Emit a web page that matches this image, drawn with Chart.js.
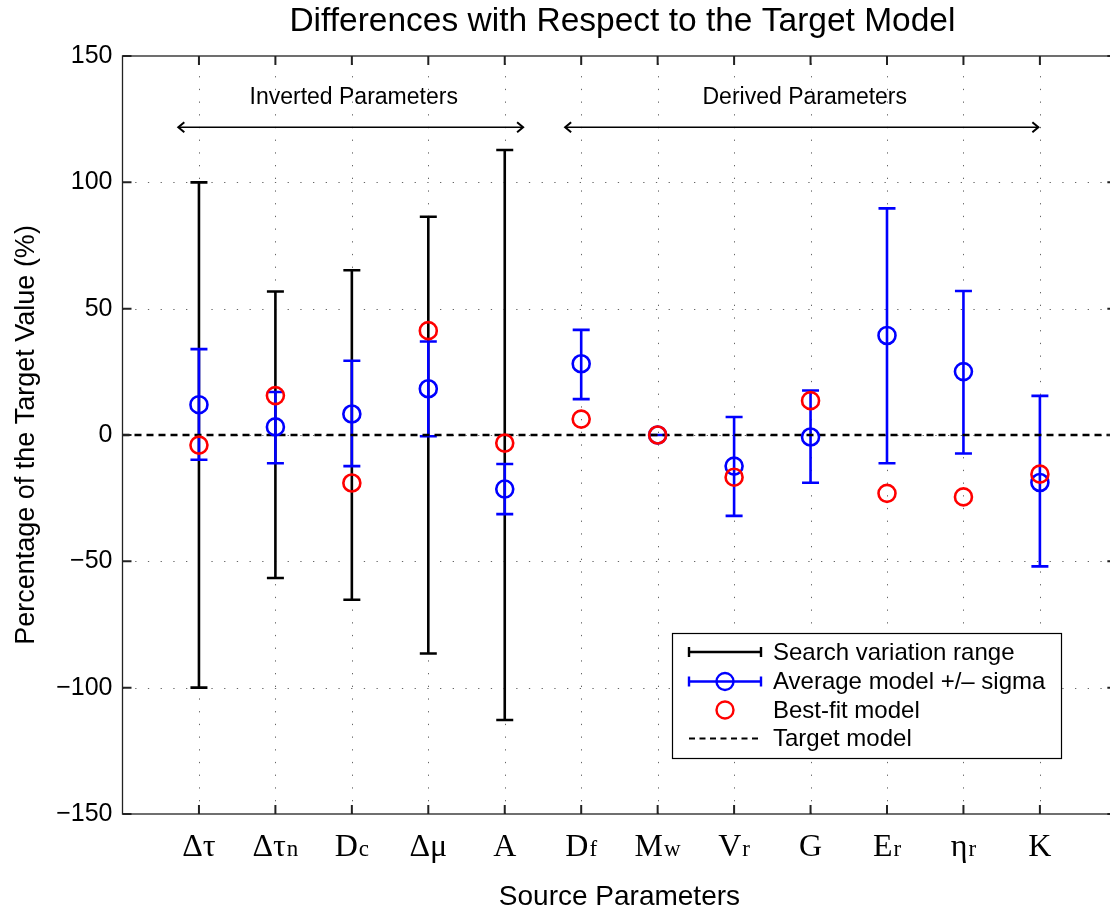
<!DOCTYPE html>
<html><head><meta charset="utf-8">
<script src="https://cdn.jsdelivr.net/npm/chart.js@4.4.0/dist/chart.umd.min.js"></script>
<style>html,body{margin:0;padding:0;overflow:hidden;background:#fff;width:1110px;height:911px}</style>
</head><body>
<canvas id="c" width="1110" height="911" style="display:block;width:1110px;height:911px"></canvas>
<script>
// ---- data ----
const categories = ['Δτ','Δτ','D','Δμ','A','D','M','V','G','E','η','K'];
const subscripts = ['','n','c','','','f','w','r','','r','r',''];
const searchLow  = [-100,-56.6,-65.2,-86.5,-112.8,null,null,null,null,null,null,null];
const searchHigh = [100,56.8,65.2,86.4,112.8,null,null,null,null,null,null,null];
const avgMean = [12,3.2,8.3,18.3,-21.4,28.2,0,-12.3,-0.8,39.4,25.1,-18.8];
const avgLow  = [-9.8,-11.2,-12.3,-0.5,-31.3,14.2,0,-32,-18.9,-11.2,-7.3,-52];
const avgHigh = [34,17,29.4,37,-11.5,41.6,0,7.1,17.6,89.7,57,15.5];
const bestFit = [-4,15.6,-19,41.3,-3.2,6.3,0,-16.7,13.6,-23.1,-24.5,-15.5];
const yTicks = [-150,-100,-50,0,50,100,150];
const groupLabels = ['Inverted Parameters','Derived Parameters'];
const legendLabels = ['Search variation range','Average model +/\u2013 sigma','Best-fit model','Target model'];
const titleText = 'Differences with Respect to the Target Model';
const xTitle = 'Source Parameters';
const yTitle = 'Percentage of the Target Value (%)';

const SANS = '"Liberation Sans", Arial, Helvetica, sans-serif';
const SERIF = '"Liberation Serif", "Times New Roman", serif';
const BLUE = '#0000ff', RED = '#ff0000';
const X_FULL = categories.length + 1;   // full axis extent (frame at 0 and 13)
const X_VISIBLE = 12.917;               // the figure is cropped just before the right frame

function errBar(ctx, x, y, i, lo, hi, color, w) {
  const px = x.getPixelForValue(i + 1);
  const pl = y.getPixelForValue(lo), ph = y.getPixelForValue(hi);
  ctx.strokeStyle = color; ctx.lineWidth = w;
  ctx.beginPath();
  ctx.moveTo(px, pl); ctx.lineTo(px, ph);
  ctx.moveTo(px - 8.5, pl); ctx.lineTo(px + 8.5, pl);
  ctx.moveTo(px - 8.5, ph); ctx.lineTo(px + 8.5, ph);
  ctx.stroke();
}
function chevron(ctx, x, y, dir) {
  ctx.beginPath();
  ctx.moveTo(x - dir * 6, y - 5); ctx.lineTo(x, y); ctx.lineTo(x - dir * 6, y + 5);
  ctx.stroke();
}

const custom = {
  id: 'custom',
  beforeDatasetsDraw(chart) {
    const {ctx, chartArea: a, scales: {x, y}} = chart;
    ctx.save();
    ctx.strokeStyle = 'rgba(0,0,0,0.6)'; ctx.lineWidth = 1; ctx.setLineDash([1.3, 11.4]);
    categories.forEach((c, i) => {
      const px = Math.round(x.getPixelForValue(i + 1)) + 0.5;
      ctx.beginPath(); ctx.moveTo(px, a.bottom); ctx.lineTo(px, a.top); ctx.stroke();
    });
    yTicks.forEach(v => {
      if (v === yTicks[0] || v === yTicks[yTicks.length - 1]) return;
      const py = Math.round(y.getPixelForValue(v)) + 0.5;
      ctx.beginPath(); ctx.moveTo(a.left, py); ctx.lineTo(a.right, py); ctx.stroke();
    });
    ctx.setLineDash([]);
    ctx.lineCap = 'butt';
    categories.forEach((c, i) => {
      if (searchLow[i] !== null) errBar(ctx, x, y, i, searchLow[i], searchHigh[i], '#000', 2.6);
    });
    categories.forEach((c, i) => errBar(ctx, x, y, i, avgLow[i], avgHigh[i], BLUE, 2.6));
    ctx.restore();
  },
  afterDatasetsDraw(chart) {
    const {ctx, chartArea: a, scales: {x, y}} = chart;
    const fr = x.getPixelForValue(X_FULL);
    ctx.save();
    ctx.strokeStyle = '#222'; ctx.lineWidth = 1.3;
    ctx.strokeRect(a.left, a.top, fr - a.left, a.bottom - a.top);
    ctx.beginPath();
    categories.forEach((c, i) => {
      const px = x.getPixelForValue(i + 1);
      ctx.moveTo(px, a.bottom); ctx.lineTo(px, a.bottom - 9);
      ctx.moveTo(px, a.top); ctx.lineTo(px, a.top + 9);
    });
    yTicks.forEach(v => {
      const py = y.getPixelForValue(v);
      ctx.moveTo(a.left, py); ctx.lineTo(a.left + 9, py);
      ctx.moveTo(fr, py); ctx.lineTo(fr - 9, py);
    });
    ctx.lineWidth = 2; ctx.stroke();

    // group annotations
    const spans = [[0.73, 5.24], [5.79, 11.98]];
    const ay = y.getPixelForValue(121.8), ty = y.getPixelForValue(133.4);
    ctx.fillStyle = '#000'; ctx.font = '23px ' + SANS; ctx.textAlign = 'center'; ctx.textBaseline = 'middle';
    ctx.strokeStyle = '#000';
    groupLabels.forEach((t, k) => {
      const x1 = x.getPixelForValue(spans[k][0]), x2 = x.getPixelForValue(spans[k][1]);
      ctx.lineWidth = 1.5;
      ctx.beginPath(); ctx.moveTo(x1, ay); ctx.lineTo(x2, ay); ctx.stroke();
      ctx.lineWidth = 2;
      chevron(ctx, x1, ay, -1); chevron(ctx, x2, ay, 1);
      ctx.fillText(t, (x1 + x2) / 2 + 3, ty);
    });

    // legend
    const L = 672, T = 633, R = 1061, B = 758;
    ctx.fillStyle = '#fff'; ctx.fillRect(L, T, R - L, B - T);
    ctx.strokeStyle = '#000'; ctx.lineWidth = 1.2; ctx.strokeRect(L + 0.5, T + 0.5, R - L, B - T);
    const rows = [652, 681.5, 710, 738.5];
    const s1 = 689, s2 = 761, sc = 725;
    ctx.lineWidth = 2.4;
    ctx.strokeStyle = '#000';
    ctx.beginPath(); ctx.moveTo(s1, rows[0]); ctx.lineTo(s2, rows[0]);
    ctx.moveTo(s1, rows[0] - 5); ctx.lineTo(s1, rows[0] + 5);
    ctx.moveTo(s2, rows[0] - 5); ctx.lineTo(s2, rows[0] + 5); ctx.stroke();
    ctx.strokeStyle = BLUE;
    ctx.beginPath(); ctx.moveTo(s1, rows[1]); ctx.lineTo(s2, rows[1]);
    ctx.moveTo(s1, rows[1] - 5); ctx.lineTo(s1, rows[1] + 5);
    ctx.moveTo(s2, rows[1] - 5); ctx.lineTo(s2, rows[1] + 5); ctx.stroke();
    ctx.beginPath(); ctx.arc(sc, rows[1], 8.5, 0, Math.PI * 2); ctx.stroke();
    ctx.strokeStyle = RED;
    ctx.beginPath(); ctx.arc(sc, rows[2], 8.5, 0, Math.PI * 2); ctx.stroke();
    ctx.strokeStyle = '#000'; ctx.setLineDash([6, 4.5]); ctx.lineWidth = 2;
    ctx.beginPath(); ctx.moveTo(s1, rows[3]); ctx.lineTo(s2, rows[3]); ctx.stroke();
    ctx.setLineDash([]);
    ctx.fillStyle = '#000'; ctx.font = '24px ' + SANS; ctx.textAlign = 'left'; ctx.textBaseline = 'middle';
    legendLabels.forEach((t, k) => ctx.fillText(t, 773, rows[k] + 1));

    // x tick labels with subscripts
    ctx.textBaseline = 'alphabetic'; ctx.textAlign = 'left';
    categories.forEach((c, i) => {
      const px = x.getPixelForValue(i + 1);
      ctx.font = '32px ' + SERIF; const w1 = ctx.measureText(c).width;
      ctx.font = '23px ' + SERIF; const w2 = subscripts[i] ? ctx.measureText(subscripts[i]).width + 1 : 0;
      const sx = px - (w1 + w2) / 2;
      ctx.font = '32px ' + SERIF; ctx.fillText(c, sx, 856);
      if (subscripts[i]) { ctx.font = '23px ' + SERIF; ctx.fillText(subscripts[i], sx + w1 + 1, 856); }
    });

    // titles
    const cx = (a.left + fr) / 2;
    ctx.textAlign = 'center'; ctx.textBaseline = 'middle';
    ctx.font = '33.5px ' + SANS; ctx.fillText(titleText, cx + 3, 22);
    ctx.font = '28px ' + SANS; ctx.fillText(xTitle, cx, 897);
    ctx.font = '27px ' + SANS;
    ctx.save(); ctx.translate(27, (a.top + a.bottom) / 2); ctx.rotate(-Math.PI / 2);
    ctx.fillText(yTitle, 0, 0); ctx.restore();
    ctx.restore();
  }
};

const pts = arr => arr.map((v, i) => ({x: i + 1, y: v}));

new Chart(document.getElementById('c'), {
  type: 'scatter',
  data: {
    datasets: [
      {label: 'Best-fit model', data: pts(bestFit), order: 0, pointStyle: 'circle', pointRadius: 8.5,
       borderColor: RED, backgroundColor: 'rgba(0,0,0,0)', borderWidth: 2.6, showLine: false},
      {label: 'Average model +/- sigma', data: pts(avgMean), order: 1, pointStyle: 'circle', pointRadius: 8.5,
       borderColor: BLUE, backgroundColor: 'rgba(0,0,0,0)', borderWidth: 2.6, showLine: false},
      {label: 'Target model', data: [{x: 0, y: 0}, {x: X_FULL, y: 0}], order: 2, showLine: true, pointRadius: 0,
       borderColor: '#000', borderWidth: 2.4, borderDash: [7, 5], backgroundColor: '#000'}
    ]
  },
  options: {
    responsive: false, animation: false, events: [],
    layout: {autoPadding: false, padding: {left: 0, top: 56, bottom: 0, right: 0}},
    plugins: {legend: {display: false}, tooltip: {enabled: false}, title: {display: false}},
    scales: {
      x: {type: 'linear', min: 0, max: X_VISIBLE, grid: {display: false}, border: {display: false},
          ticks: {display: false},
          afterFit: s => { s.height = 97; s.paddingLeft = 0; s.paddingRight = 0; }},
      y: {type: 'linear', min: -150, max: 150, grid: {display: false, drawTicks: false}, border: {display: false},
          afterBuildTicks: s => { s.ticks = yTicks.map(v => ({value: v})); },
          ticks: {color: '#000', padding: 10, font: {family: SANS, size: 25},
                  callback: v => v < 0 ? '\u2212' + Math.abs(v) : String(v)},
          afterFit: s => { s.width = 122.5; s.paddingTop = 0; s.paddingBottom = 0; }}
    }
  },
  plugins: [custom]
});
</script>
</body></html>
